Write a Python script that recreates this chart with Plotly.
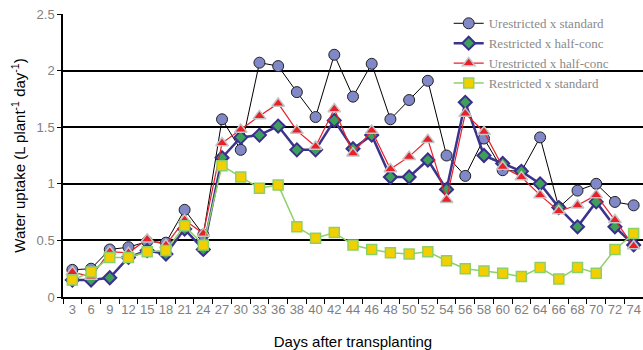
import plotly.graph_objects as go

days = ["3", "6", "9", "12", "15", "18", "21", "24", "27", "30", "33", "36", "38", "40", "42",
        "44", "46", "48", "50", "52", "54", "56", "58", "60", "62", "64", "66", "68", "70", "72", "74"]

unres_standard = [0.24, 0.25, 0.42, 0.44, 0.49, 0.48, 0.77, 0.55, 1.57, 1.30, 2.07, 2.04, 1.81, 1.59, 2.14,
                  1.77, 2.06, 1.57, 1.74, 1.91, 1.25, 1.07, 1.40, 1.12, 1.11, 1.41, 0.79, 0.94, 1.00, 0.84, 0.81]
res_half = [0.15, 0.15, 0.17, 0.35, 0.41, 0.38, 0.60, 0.42, 1.23, 1.41, 1.43, 1.51, 1.30, 1.30, 1.56,
            1.31, 1.43, 1.06, 1.06, 1.21, 0.95, 1.72, 1.25, 1.18, 1.11, 1.00, 0.79, 0.62, 0.84, 0.62, 0.46]
unres_half = [0.22, 0.18, 0.40, 0.39, 0.51, 0.46, 0.68, 0.56, 1.36, 1.48, 1.60, 1.71, 1.47, 1.33, 1.66,
              1.27, 1.47, 1.13, 1.24, 1.39, 0.86, 1.62, 1.46, 1.15, 1.06, 0.90, 0.76, 0.81, 0.90, 0.68, 0.45]
res_standard = [0.15, 0.22, 0.35, 0.35, 0.40, 0.41, 0.63, 0.46, 1.16, 1.06, 0.96, 0.99, 0.62, 0.52, 0.57,
                0.46, 0.42, 0.39, 0.38, 0.40, 0.32, 0.25, 0.23, 0.21, 0.18, 0.26, 0.16, 0.26, 0.21, 0.42, 0.56]

series_names = ["Urestricted x standard", "Restricted x half-conc",
                "Urestricted x half-conc", "Restricted x standard"]

fig = go.Figure()
fig.add_trace(go.Scatter(
    x=days, y=unres_standard, name=series_names[0], mode="lines+markers",
    line=dict(color="black", width=1),
    marker=dict(symbol="circle", size=11, color="#8088C8", line=dict(color="#222222", width=1))))
fig.add_trace(go.Scatter(
    x=days, y=res_half, name=series_names[1], mode="lines+markers",
    line=dict(color="#3B348C", width=2.5),
    marker=dict(symbol="diamond", size=10, color="#3DA05A", line=dict(color="#3B2E8C", width=2))))
fig.add_trace(go.Scatter(
    x=days, y=unres_half, name=series_names[2], mode="lines+markers",
    line=dict(color="#E8202A", width=1.2),
    marker=dict(symbol="triangle-up", size=11, color="#E8202A", line=dict(color="#C4C4C4", width=1.5))))
fig.add_trace(go.Scatter(
    x=days, y=res_standard, name=series_names[3], mode="lines+markers",
    line=dict(color="#8ED068", width=1.5),
    marker=dict(symbol="square", size=10, color="#F2D000", line=dict(color="#8ED068", width=1.5))))

fig.update_layout(
    width=643, height=350,
    margin=dict(l=63, r=0, t=14, b=53, autoexpand=False),
    paper_bgcolor="white", plot_bgcolor="white",
    showlegend=True,
    legend=dict(x=0.665, y=1.02, xanchor="left", yanchor="top",
                bgcolor="rgba(255,255,255,0)", borderwidth=0,
                font=dict(family="Liberation Serif", size=13, color="#8a8a8a"),
                tracegroupgap=0, itemwidth=30),
    font=dict(family="Liberation Sans"),
)
fig.update_xaxes(
    type="category", range=[-0.5, len(days) - 0.5], autorange=False,
    showgrid=False, showline=True, linecolor="black", linewidth=1.5,
    ticks="outside", ticklen=5, tickcolor="black", tickson="boundaries", tickangle=0,
    automargin=False,
    tickfont=dict(family="Liberation Sans", size=13, color="#7f7f7f"),
    title=dict(text="Days after transplanting", font=dict(family="Liberation Sans", size=15, color="black"),
               standoff=20),
)
fig.update_yaxes(
    range=[0, 2.5], dtick=0.5, tickformat="~g", showgrid=True, gridcolor="black", gridwidth=1.5,
    showline=True, linecolor="black", linewidth=1.5, zeroline=False, automargin=False,
    ticks="outside", ticklen=4, tickcolor="black",
    tickfont=dict(family="Liberation Sans", size=13, color="#7f7f7f"),
    title=dict(text="Water uptake (L plant<sup>-1</sup> day<sup>-1</sup>)",
               font=dict(family="Liberation Sans", size=15, color="black"), standoff=7),
)

fig.write_html(
    "out.html",
    config={"displayModeBar": False},
    post_script="document.body.style.margin='0';document.body.style.overflow='hidden';",
)
